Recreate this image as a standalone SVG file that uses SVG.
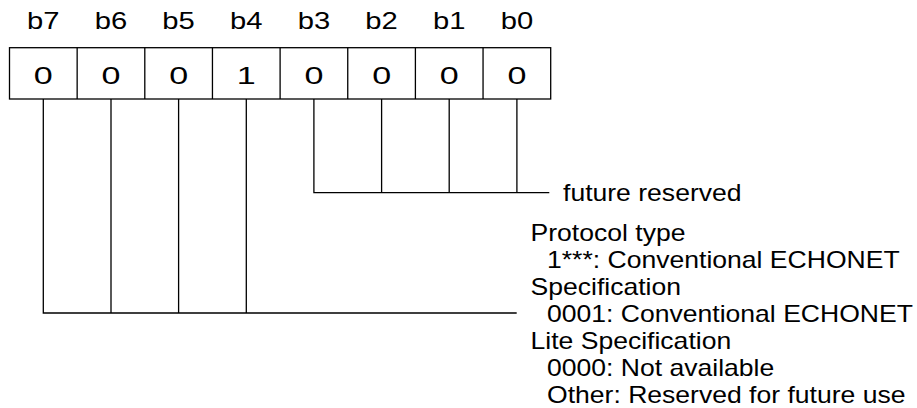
<svg xmlns="http://www.w3.org/2000/svg" width="917" height="408" viewBox="0 0 917 408">
<style>
text{font-family:"Liberation Sans",Arial,sans-serif;fill:#000}
.lb{font-size:23px;text-anchor:middle}
.d{font-size:24px;text-anchor:middle}
.t{font-size:23px}
.ln{fill:none;stroke:#000;stroke-width:1.3}
</style>
<rect width="917" height="408" fill="#fff"/>
<g id="labels">
<text class="lb" transform="translate(43.3 29.3) scale(1.27 1)">b7</text>
<text class="lb" transform="translate(111 29.3) scale(1.27 1)">b6</text>
<text class="lb" transform="translate(178.6 29.3) scale(1.27 1)">b5</text>
<text class="lb" transform="translate(246.3 29.3) scale(1.27 1)">b4</text>
<text class="lb" transform="translate(313.9 29.3) scale(1.27 1)">b3</text>
<text class="lb" transform="translate(381.6 29.3) scale(1.27 1)">b2</text>
<text class="lb" transform="translate(449.2 29.3) scale(1.27 1)">b1</text>
<text class="lb" transform="translate(516.9 29.3) scale(1.27 1)">b0</text>
</g>
<g id="register">
<rect class="ln" x="9.5" y="47.7" width="541.2" height="51.3"/>
<path class="ln" d="M77.15 47.7V99M144.8 47.7V99M212.45 47.7V99M280.1 47.7V99M347.75 47.7V99M415.4 47.7V99M483.05 47.7V99"/>
<text class="d" transform="translate(43.3 83.8) scale(1.42 1)">0</text>
<text class="d" transform="translate(111 83.8) scale(1.42 1)">0</text>
<text class="d" transform="translate(178.6 83.8) scale(1.42 1)">0</text>
<text class="d" transform="translate(246.3 83.8) scale(1.42 1)">1</text>
<text class="d" transform="translate(313.9 83.8) scale(1.42 1)">0</text>
<text class="d" transform="translate(381.6 83.8) scale(1.42 1)">0</text>
<text class="d" transform="translate(449.2 83.8) scale(1.42 1)">0</text>
<text class="d" transform="translate(516.9 83.8) scale(1.42 1)">0</text>
</g>
<g id="connectors">
<path class="ln" d="M313.9 99V192.7H549.3M381.6 99V192.7M449.2 99V192.7M516.9 99V192.7"/>
<path class="ln" d="M43.3 99V313H516.7M111 99V313M178.6 99V313M246.3 99V313"/>
</g>
<g id="future-reserved">
<text class="t" transform="translate(563 200.7) scale(1.155 1)">future reserved</text>
</g>
<g id="protocol-type">
<text class="t" transform="translate(530.5 241) scale(1.155 1)">Protocol type</text>
<text class="t" transform="translate(547 268) scale(1.155 1)">1***: Conventional ECHONET</text>
<text class="t" transform="translate(530.5 295) scale(1.155 1)">Specification</text>
<text class="t" transform="translate(547 322) scale(1.155 1)">0001: Conventional ECHONET</text>
<text class="t" transform="translate(530.5 349) scale(1.155 1)">Lite Specification</text>
<text class="t" transform="translate(547 376) scale(1.155 1)">0000: Not available</text>
<text class="t" transform="translate(547 403) scale(1.155 1)">Other: Reserved for future use</text>
</g>
</svg>
